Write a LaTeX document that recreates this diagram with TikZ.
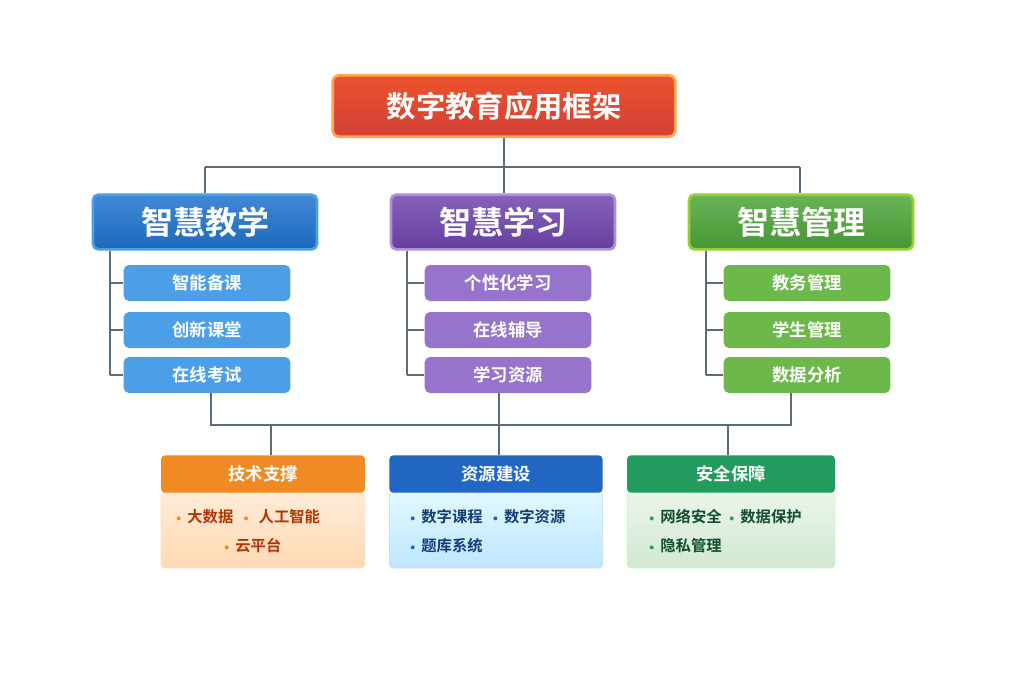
\documentclass[tikz,border=0pt]{standalone}
\usepackage{fontspec}
\newfontfamily\cjk{Noto Sans CJK SC}[BoldFont={Noto Sans CJK SC Bold}]
\begin{document}
\begin{tikzpicture}[x=0.75pt,y=-0.75pt,
  line/.style={draw=gray!60!blue!50!black,line width=2.2pt},
  box/.style={rounded corners=4pt,text=white,font=\cjk\bfseries,inner sep=0pt},
  big/.style={box,minimum width=168pt,minimum height=41pt,font=\cjk\bfseries\fontsize{24}{26}\selectfont,line width=2pt},
  sub/.style={box,minimum width=125pt,minimum height=27pt,font=\cjk\bfseries\fontsize{13}{15}\selectfont},
  head/.style={box,rounded corners=3pt,minimum height=28pt,font=\cjk\bfseries\fontsize{13}{15}\selectfont},
  body/.style={rounded corners=3pt,minimum height=57pt,inner sep=0pt},
  item/.style={font=\cjk\bfseries\fontsize{11.5}{13}\selectfont,anchor=west}]
\useasboundingbox (0,0) rectangle (1024,683);
\definecolor{tred}{HTML}{E8473A}\definecolor{tblue}{HTML}{1F74D0}\definecolor{tpur}{HTML}{7046B0}
\definecolor{tgrn}{HTML}{4FA63A}\definecolor{sblue}{HTML}{4C9FE6}\definecolor{spur}{HTML}{9674CC}
\definecolor{sgrn}{HTML}{6CB84A}\definecolor{hor}{HTML}{F08A24}\definecolor{hbl}{HTML}{2166C2}
\definecolor{hgr}{HTML}{239A5E}\definecolor{line}{HTML}{5A6B7A}
\newcommand\bul[1]{\raisebox{0.3ex}{\tikz\fill[#1] (0,0) circle (1.5pt);}\hspace{5pt}}
% connectors
\coordinate (j0) at (504,167);\coordinate (jl) at (205,167);\coordinate (jr) at (800,167);
\coordinate (b0) at (211,425);\coordinate (b1) at (499,425);\coordinate (b2) at (791,425);
\coordinate (d0) at (271,425);\coordinate (d2) at (728,425);
% title
\node[box,rounded corners=5pt,minimum width=257pt,minimum height=46pt,top color=tred!80!orange,bottom color=tred!90!black,draw=orange!70!white,line width=2pt,font=\cjk\bfseries\fontsize{22}{24}\selectfont] (t) at (504,106) {数字教育应用框架};
\node[big,top color=tblue!85,bottom color=tblue!90!black,draw=sblue] (m1) at (205,222) {智慧教学};
\node[big,top color=tpur!85,bottom color=tpur!90!black,draw=spur!80] (m2) at (503,222) {智慧学习};
\node[big,top color=tgrn!85,bottom color=tgrn!90!black,draw=sgrn!70!yellow] (m3) at (801,222) {智慧管理};
\foreach \n/\x/\c/\tx in {1/207/sblue/{智能备课,创新课堂,在线考试},2/508/spur/{个性化学习,在线辅导,学习资源},3/807/sgrn/{教务管理,学生管理,数据分析}}{
  \foreach \t [count=\i] in \tx {
    \pgfmathsetmacro\yy{\i==1?283:(\i==2?330:375)}
    \node[sub,fill=\c] (s\n\i) at (\x,\yy) {\t};
  }}
\draw[line,draw=line] (t.south -| j0) -- (j0) (jl) -- (jr) (jl) -- (jl |- m1.north) (j0) -- (j0 |- m2.north) (jr) -- (jr |- m3.north);
\foreach \n/\lx in {1/110,2/407,3/706}{
  \draw[line,draw=line] (m\n.south -| \lx,0) -- (s\n3.west -| \lx,0);
  \foreach \i in {1,2,3} \draw[line,draw=line] (s\n\i.west -| \lx,0) -- (s\n\i.west);}
\draw[line,draw=line] (s13.south -| b0) -- (b0) -- (b2) -- (s33.south -| b2) (s23.south -| b1) -- (b1);
% bottom boxes
\node[body,minimum width=153pt,top color=orange!15,bottom color=orange!30,draw=orange!25] (k1) at (263,530) {};
\node[body,minimum width=160pt,top color=blue!20!cyan!12,bottom color=blue!40!cyan!25,draw=blue!20] (k2) at (496,530) {};
\node[body,minimum width=156pt,top color=green!50!black!8,bottom color=green!50!black!18,draw=green!25] (k3) at (731,530) {};
\node[head,minimum width=153pt,fill=hor] (h1) at (263,474) {技术支撑};
\node[head,minimum width=160pt,fill=hbl] (h2) at (496,474) {资源建设};
\node[head,minimum width=156pt,fill=hgr] (h3) at (731,474) {安全保障};
\draw[line,draw=line] (d0) -- (d0 |- h1.north) (b1) -- (b1 |- h2.north) (d2) -- (d2 |- h3.north);
\node[item,text=orange!60!red!70!black] (i1) at (172,517) {\bul{hor}大数据\hspace{8pt}\bul{hor}\hspace{3pt}人工智能};
\node[item,text=orange!60!red!70!black] (i2) at (220,546) {\bul{hor}云平台};
\node[item,text=hbl!60!black] (i3) at (406,517) {\bul{hbl}数字课程\hspace{8pt}\bul{hbl}数字资源};
\node[item,text=hbl!60!black] (i4) at (406,546) {\bul{hbl}题库系统};
\node[item,text=hgr!50!black] (i5) at (645,517) {\bul{hgr}网络安全\hspace{6pt}\bul{hgr}数据保护};
\node[item,text=hgr!50!black] (i6) at (645,546) {\bul{hgr}隐私管理};
\end{tikzpicture}
\end{document}
